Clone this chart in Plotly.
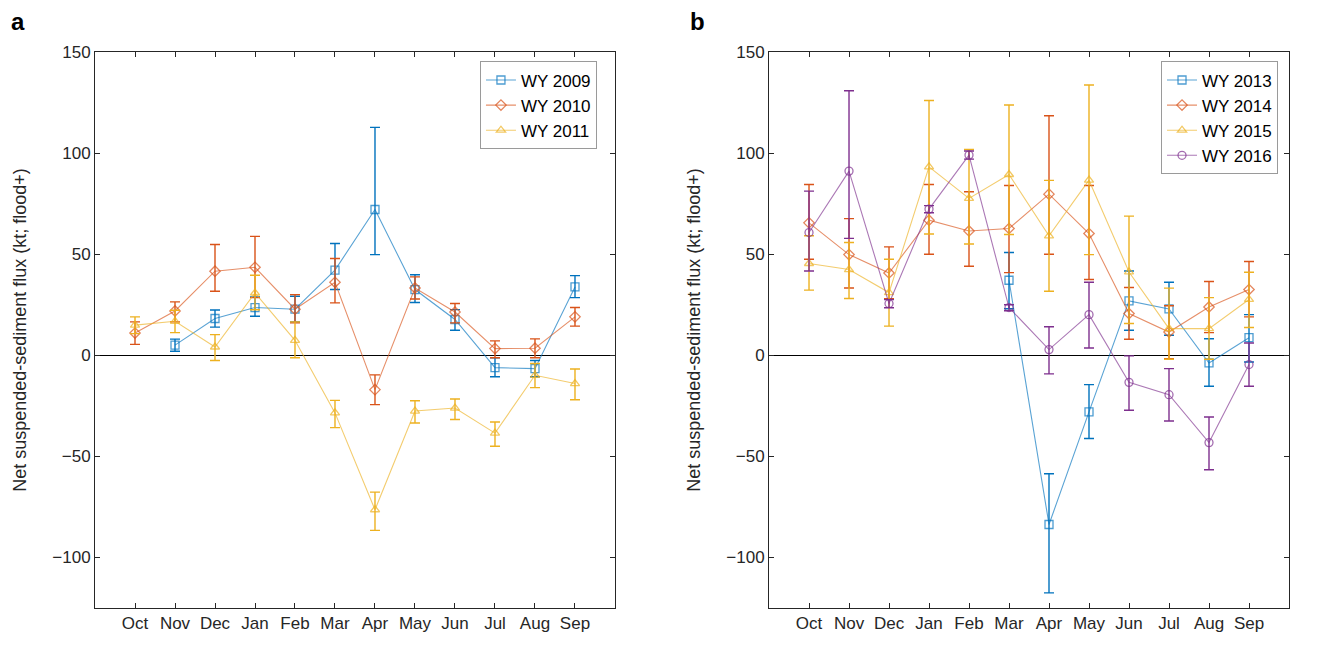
import plotly.graph_objects as go

# ── Data ─────────────────────────────────────────────────────────────────────
MONTHS = ["Oct", "Nov", "Dec", "Jan", "Feb", "Mar", "Apr", "May", "Jun", "Jul", "Aug", "Sep"]
X = list(range(1, 13))

# panel a
wy2009     = [None, 5.0, 18.2, 23.6, 22.8, 42.1, 72.1, 32.5, 17.7, -6.1, -6.6, 33.8]
wy2009_hi  = [None, 8.0, 22.4, 28.9, 29.2, 55.3, 112.7, 39.8, 22.6, -1.2, -2.6, 39.4]
wy2009_lo  = [None, 2.0, 13.9, 19.3, 16.5, 32.5, 49.8, 26.1, 12.4, -10.6, -10.6, 28.5]

wy2010     = [11.0, 21.9, 41.6, 43.5, 22.8, 36.1, -17.0, 33.3, 21.4, 3.3, 3.5, 19.0]
wy2010_hi  = [16.5, 26.4, 54.8, 58.8, 30.0, 47.9, -9.7, 38.8, 25.6, 7.1, 8.1, 23.6]
wy2010_lo  = [5.4, 16.5, 31.7, 28.5, 16.0, 25.9, -24.4, 27.8, 16.0, -1.2, -1.2, 14.4]

wy2011     = [14.9, 16.8, 4.1, 30.8, 7.4, -28.5, -76.4, -27.6, -26.1, -38.5, -9.9, -14.0]
wy2011_hi  = [19.0, 22.3, 10.2, 39.6, 16.5, -22.3, -67.7, -22.5, -21.6, -33.0, -4.1, -6.8]
wy2011_lo  = [10.7, 11.2, -2.6, 22.5, -1.2, -35.8, -86.6, -33.5, -31.8, -45.0, -16.0, -22.0]

# panel b
wy2013     = [None, None, None, None, None, 37.1, -83.7, -28.0, 26.9, 22.9, -3.8, 8.7]
wy2013_hi  = [None, None, None, None, None, 50.8, -58.6, -14.5, 41.7, 36.1, 8.2, 20.1]
wy2013_lo  = [None, None, None, None, None, 23.0, -117.5, -41.2, 12.4, 9.9, -15.3, -3.3]

wy2014     = [65.5, 49.8, 40.7, 66.8, 61.5, 62.7, 79.7, 60.2, 20.6, 11.5, 23.9, 32.5]
wy2014_hi  = [84.5, 67.6, 53.6, 84.5, 80.9, 84.0, 118.5, 84.0, 33.5, 24.5, 36.5, 46.4]
wy2014_lo  = [47.5, 33.3, 28.0, 50.0, 44.0, 40.9, 50.0, 37.5, 7.9, -1.7, 11.2, 19.0]

wy2015     = [45.4, 42.4, 31.0, 93.2, 77.6, 89.4, 59.1, 86.6, 41.2, 13.2, 13.2, 27.6]
wy2015_hi  = [59.1, 55.8, 47.5, 126.0, 101.8, 123.8, 86.5, 133.7, 68.8, 33.2, 28.5, 41.1]
wy2015_lo  = [32.2, 28.1, 14.4, 60.0, 55.0, 59.7, 31.7, 49.8, 15.7, -2.0, -2.0, 13.7]

wy2016     = [60.7, 91.1, 25.6, 72.3, 99.0, 23.6, 2.8, 20.1, -13.4, -19.5, -43.2, -4.6]
wy2016_hi  = [81.2, 130.8, 27.5, 74.0, 101.0, 25.0, 14.1, 36.1, -0.3, -6.6, -30.5, 6.1]
wy2016_lo  = [41.7, 57.8, 23.5, 70.5, 97.0, 22.0, -9.2, 3.6, -27.2, -32.5, -56.6, -15.3]

# ── Style ────────────────────────────────────────────────────────────────────
BLUE, ORANGE, YELLOW, PURPLE = (0, 114, 189), (217, 83, 25), (237, 177, 32), (126, 47, 142)
FONT = "Liberation Sans, Arial, sans-serif"
AX_CLR = "#262626"

# page body has an 8px margin, so the figure is a bit smaller than the window
W, H = 1310, 629
ML, MR, MT, MB = 87, 29, 44, 29
PW, PH = W - ML - MR, H - MT - MB


def rgba(c, a=1.0):
    return f"rgba({c[0]},{c[1]},{c[2]},{a})"


def series(name, y, hi, lo, color, symbol, xaxis, yaxis, legend):
    up = [None if v is None else h - v for v, h in zip(y, hi)]
    dn = [None if v is None else v - l for v, l in zip(y, lo)]
    return go.Scatter(
        x=X, y=y, name=name, mode="lines+markers",
        xaxis=xaxis, yaxis=yaxis, legend=legend,
        line=dict(color=rgba(color, 0.65), width=1.1),
        marker=dict(symbol=symbol, size=8, color=rgba(color, 0.7), line=dict(width=1.3)),
        error_y=dict(type="data", symmetric=False, array=up, arrayminus=dn,
                     color=rgba(color), thickness=1.4, width=5),
    )


fig = go.Figure()
fig.add_trace(series("WY 2009", wy2009, wy2009_hi, wy2009_lo, BLUE, "square-open", "x", "y", "legend"))
fig.add_trace(series("WY 2010", wy2010, wy2010_hi, wy2010_lo, ORANGE, "diamond-open", "x", "y", "legend"))
fig.add_trace(series("WY 2011", wy2011, wy2011_hi, wy2011_lo, YELLOW, "triangle-up-open", "x", "y", "legend"))
fig.add_trace(series("WY 2013", wy2013, wy2013_hi, wy2013_lo, BLUE, "square-open", "x2", "y2", "legend2"))
fig.add_trace(series("WY 2014", wy2014, wy2014_hi, wy2014_lo, ORANGE, "diamond-open", "x2", "y2", "legend2"))
fig.add_trace(series("WY 2015", wy2015, wy2015_hi, wy2015_lo, YELLOW, "triangle-up-open", "x2", "y2", "legend2"))
fig.add_trace(series("WY 2016", wy2016, wy2016_hi, wy2016_lo, PURPLE, "circle-open", "x2", "y2", "legend2"))

xax = dict(range=[0, 13], tickvals=X, ticktext=MONTHS, ticks="inside", ticklen=5,
           showline=True, linecolor=AX_CLR, linewidth=1, mirror="ticks", tickcolor=AX_CLR,
           showgrid=False, zeroline=False, automargin=False,
           tickfont=dict(size=17, color=AX_CLR))
yax = dict(range=[-125, 150], tickvals=[-100, -50, 0, 50, 100, 150], ticks="inside", ticklen=5,
           showline=True, linecolor=AX_CLR, linewidth=1, mirror="ticks", tickcolor=AX_CLR,
           showgrid=False, zeroline=True, zerolinecolor="black", zerolinewidth=1.2,
           automargin=False, tickfont=dict(size=17, color=AX_CLR),
           title=dict(text="Net suspended-sediment flux (kt; flood+)",
                      font=dict(size=18, color=AX_CLR), standoff=21))

leg = dict(bgcolor="white", bordercolor="#9a9a9a", borderwidth=1,
           font=dict(size=17, color="black"), yanchor="top", xanchor="right",
           tracegroupgap=0, itemwidth=30)

fig.update_layout(
    width=W, height=H,
    paper_bgcolor="white", plot_bgcolor="white",
    font=dict(family=FONT, color=AX_CLR),
    margin=dict(l=ML, r=MR, t=MT, b=MB, autoexpand=False),
    xaxis=dict(domain=[0, 0.4355], anchor="y", **xax),
    yaxis=dict(domain=[0, 1], anchor="x", **yax),
    xaxis2=dict(domain=[0.5645, 1], anchor="y2", **xax),
    yaxis2=dict(domain=[0, 1], anchor="x2", **yax),
    legend=dict(x=0.4204, y=0.983, **leg),
    legend2=dict(x=0.9908, y=0.983, **leg),
)

# panel letters, placed from pixel positions
for letter, px, py in [("a", 10, 14), ("b", 689, 14)]:
    fig.add_annotation(text=f"<b>{letter}</b>", x=(px - ML) / PW, y=(H - MB - py) / PH,
                       xref="paper", yref="paper", xanchor="center", yanchor="middle",
                       showarrow=False, font=dict(size=24, color="black"))

fig.write_html("out.html")
